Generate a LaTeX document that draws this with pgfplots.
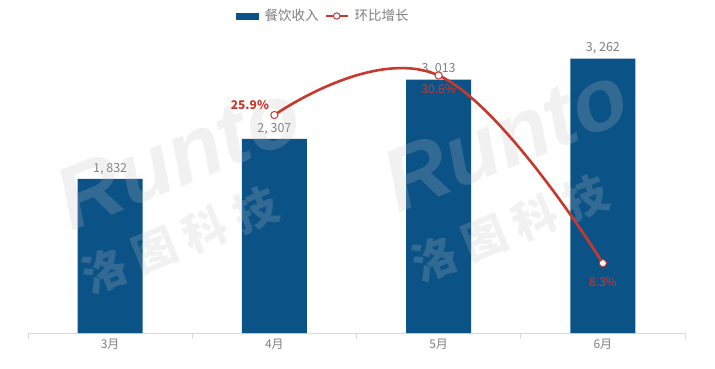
\documentclass[border=0pt]{standalone}
\usepackage{fontspec}
\setmainfont{Noto Sans CJK SC}
\newfontfamily\wmfont{Liberation Sans}
\usepackage{pgfplots}
\pgfplotsset{compat=1.18}
\definecolor{barblue}{HTML}{0B5387}
\definecolor{linered}{HTML}{C8382C}
\definecolor{txtgray}{HTML}{7F7F7F}
\definecolor{axgray}{HTML}{D9D9D9}
\begin{document}
\begin{tikzpicture}[x=1pt,y=1pt]
\useasboundingbox (0,0) rectangle (715,368);
\begin{axis}[
  at={(28pt,35pt)}, anchor=south west,
  scale only axis, width=657pt, height=303pt,
  xmin=-0.5, xmax=3.5, ymin=0, ymax=3603,
  axis x line*=bottom, axis y line=none,
  x axis line style={draw=axgray, line width=0.8pt, -},
  xtick={-0.5,0.5,1.5,2.5,3.5}, xticklabels={},
  xtick align=outside, major tick length=6pt,
  major x tick style={draw=axgray, line width=0.8pt},
  extra x ticks={0,1,2,3}, extra x tick labels={3月,4月,5月,6月},
  extra x tick style={major tick length=0pt, major x tick style={draw=none}},
  xticklabel style={font=\fontsize{12}{12}\selectfont, text=txtgray, yshift=-3pt},
  legend columns=2,
  legend style={at={(0.5,1)}, anchor=center, yshift=14pt, xshift=-33pt, draw=none, fill=none,
    font=\fontsize{13.5}{13.5}\selectfont, text=txtgray, column sep=4pt},
  legend cell align=left,
]
\addplot[ybar, bar width=65pt, fill=barblue, draw=none, forget plot,
  nodes near coords, point meta=explicit symbolic,
  nodes near coords style={text=txtgray, font=\fontsize{12.5}{12.5}\selectfont, yshift=1pt}]
  coordinates {(0,1832) [1, 832] (1,2307) [2, 307] (2,3013) [3, 013] (3,3262) [3, 262]};
\addlegendimage{legend image code/.code={\fill[barblue] (0pt,-3pt) rectangle (22pt,3pt);}}
\addlegendentry{餐饮收入}
\addlegendimage{legend image code/.code={\draw[linered, line width=2pt] (0pt,0pt) -- (22pt,0pt); \draw[linered, fill=white, line width=1pt] (11pt,0pt) circle (3.2pt);}}
\addlegendentry{环比增长}
\end{axis}
% watermark
\begin{scope}[opacity=0.22]
\node[rotate=22, font=\wmfont\fontsize{88}{88}\selectfont\itshape\bfseries, text=gray!50] at (178,212) {Runto};
\node[rotate=22, font=\fontsize{44}{44}\selectfont\bfseries, text=gray!50] at (180,128) {洛 图 科 技};
\node[rotate=22, font=\wmfont\fontsize{88}{88}\selectfont\itshape\bfseries, text=gray!50] at (505,230) {Runto};
\node[rotate=22, font=\fontsize{44}{44}\selectfont\bfseries, text=gray!50] at (510,140) {洛 图 科 技};
\end{scope}
\begin{axis}[
  at={(28pt,35pt)}, anchor=south west,
  scale only axis, width=657pt, height=303pt,
  xmin=-0.5, xmax=3.5, ymin=0, ymax=36,
  hide axis, clip=false,
]
\addplot[linered, line width=2.6pt, smooth, tension=0.72, mark=*,
  mark options={fill=white, draw=linered, line width=1pt}, mark size=3.6pt]
  coordinates {(1,25.9) (2,30.6) (3,8.3)};
\addplot[draw=none, mark=none, nodes near coords={\bfseries 25.9\%},
  nodes near coords style={text=linered, font=\fontsize{12}{12}\selectfont, anchor=south east, xshift=-2pt, yshift=2pt}]
  coordinates {(1,25.9)};
\addplot[draw=none, mark=none, nodes near coords={30.6\%},
  nodes near coords style={text=linered, font=\fontsize{12}{12}\selectfont, anchor=north, yshift=-6pt}]
  coordinates {(2,30.6)};
\addplot[draw=none, mark=none, nodes near coords={8.3\%},
  nodes near coords style={text=linered, font=\fontsize{12}{12}\selectfont, anchor=north, yshift=-11pt}]
  coordinates {(3,8.3)};
\end{axis}
\end{tikzpicture}
\end{document}
